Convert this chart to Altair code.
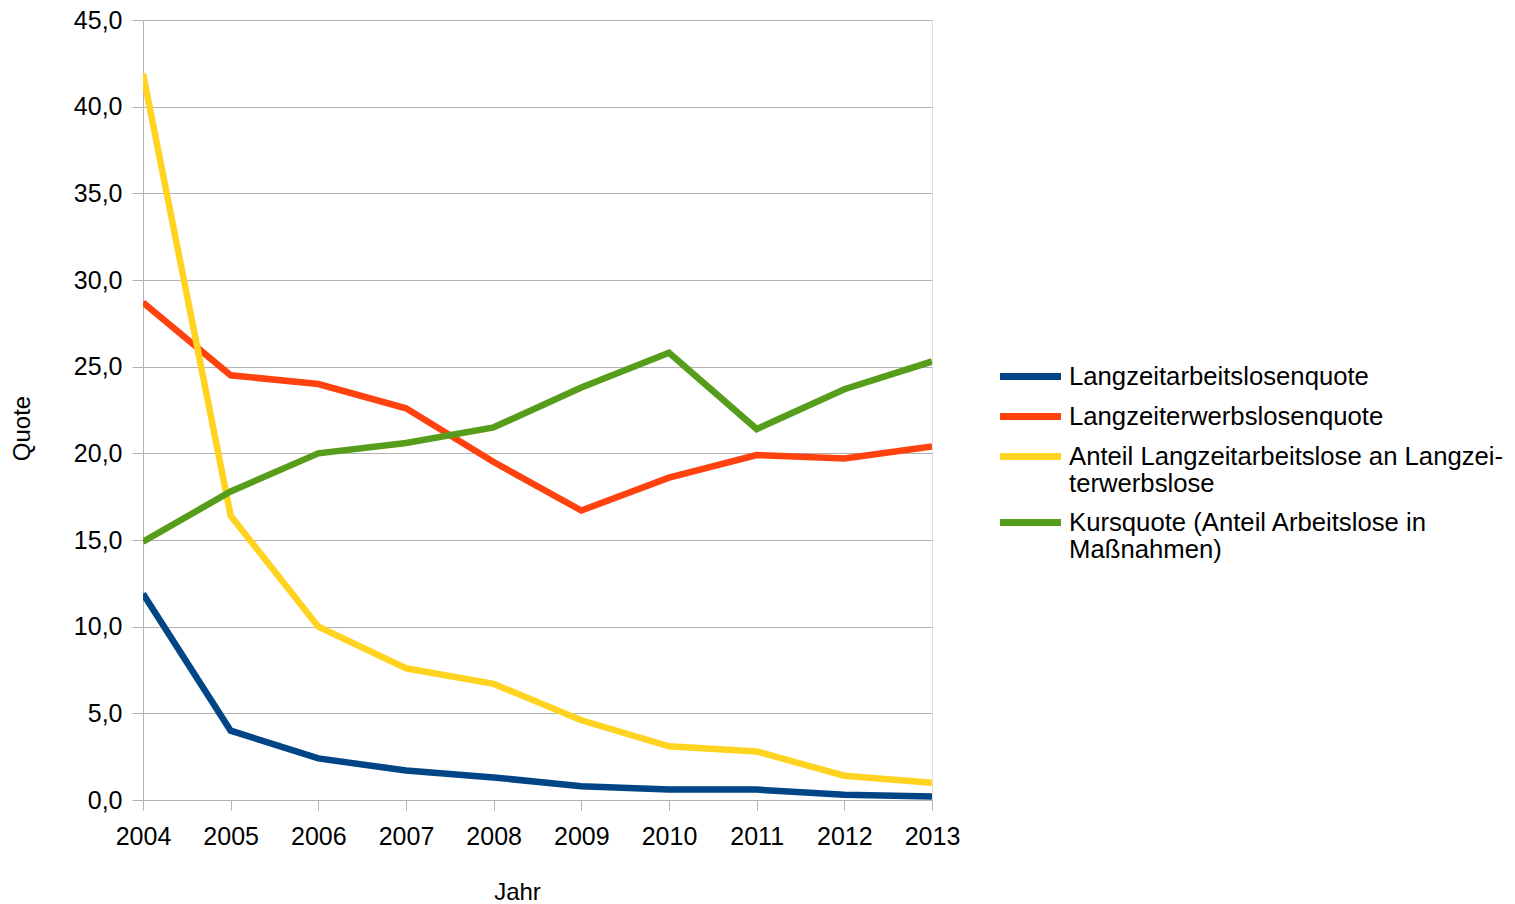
import altair as alt
import pandas as pd

years = [2004, 2005, 2006, 2007, 2008, 2009, 2010, 2011, 2012, 2013]
series_names = [
    "Langzeitarbeitslosenquote",
    "Langzeiterwerbslosenquote",
    "Anteil Langzeitarbeitslose an Langzei-|terwerbslose",
    "Kursquote (Anteil Arbeitslose in|Maßnahmen)",
]
langzeitarbeitslosenquote = [11.9, 4.0, 2.4, 1.7, 1.3, 0.8, 0.6, 0.6, 0.3, 0.2]
langzeiterwerbslosenquote = [28.7, 24.5, 24.0, 22.6, 19.5, 16.7, 18.6, 19.9, 19.7, 20.4]
anteil = [41.9, 16.4, 10.0, 7.6, 6.7, 4.6, 3.1, 2.8, 1.4, 1.0]
kursquote = [14.9, 17.8, 20.0, 20.6, 21.5, 23.8, 25.8, 21.4, 23.7, 25.3]
colors = ["#004586", "#ff420e", "#ffd320", "#579d1c"]

all_values = [langzeitarbeitslosenquote, langzeiterwerbslosenquote, anteil, kursquote]
rows = []
for name, vals in zip(series_names, all_values):
    for y, v in zip(years, vals):
        rows.append({"Jahr": y, "Quote": v, "Serie": name})
df = pd.DataFrame(rows)

FONT = "Liberation Sans"
grid = "#b3b3b3"

chart = alt.Chart(df).mark_line(strokeWidth=6.5, clip=True).encode(
    x=alt.X(
        "Jahr:Q",
        scale=alt.Scale(domain=[2004, 2013], nice=False, zero=False),
        axis=alt.Axis(
            values=years, format="d", grid=False, tickSize=10, tickColor=grid,
            domainColor=grid, labelPadding=14, labelFontSize=25, labelFont=FONT,
            labelColor="#000000", labelFlush=False, title="Jahr",
            titleFont=FONT, titleFontSize=24, titleFontWeight="normal",
            titleColor="#000000", titleX=374, titleY=92, titleBaseline="middle",
            titleAlign="center",
        ),
    ),
    y=alt.Y(
        "Quote:Q",
        scale=alt.Scale(domain=[0, 45], nice=False),
        axis=alt.Axis(
            values=[0, 5, 10, 15, 20, 25, 30, 35, 40, 45],
            labelExpr="replace(format(datum.value, '.1f'), '.', ',')",
            grid=True, gridColor=grid, tickSize=11, tickColor=grid,
            domainColor=grid, labelPadding=10, labelFontSize=25, labelFont=FONT,
            labelColor="#000000", title="Quote", titleFont=FONT,
            titleFontSize=24, titleFontWeight="normal", titleColor="#000000",
            titleX=-121, titleY=408, titleBaseline="middle", titleAlign="center",
            titleAngle=270,
        ),
    ),
    color=alt.Color(
        "Serie:N",
        scale=alt.Scale(domain=series_names, range=colors),
        sort=series_names,
        legend=alt.Legend(
            title=None, orient="none", legendX=854, legendY=343,
            symbolType="M-3.05,0H3.05", symbolStrokeWidth=7, symbolSize=400,
            symbolOffset=20,
            labelFont=FONT, labelFontSize=25.7, labelColor="#000000",
            labelLimit=500, labelOffset=25, rowPadding=11, padding=0,
            labelExpr="split(datum.label, '|')",
        ),
    ),
).properties(
    width=789, height=780,
    autosize=alt.AutoSizeParams(type="none"),
    padding={"left": 143, "top": 20, "right": 583, "bottom": 104},
).configure_view(stroke=grid, strokeWidth=1).configure(background="white")

chart.save("out.html", embed_options={"renderer": "svg", "actions": False})
